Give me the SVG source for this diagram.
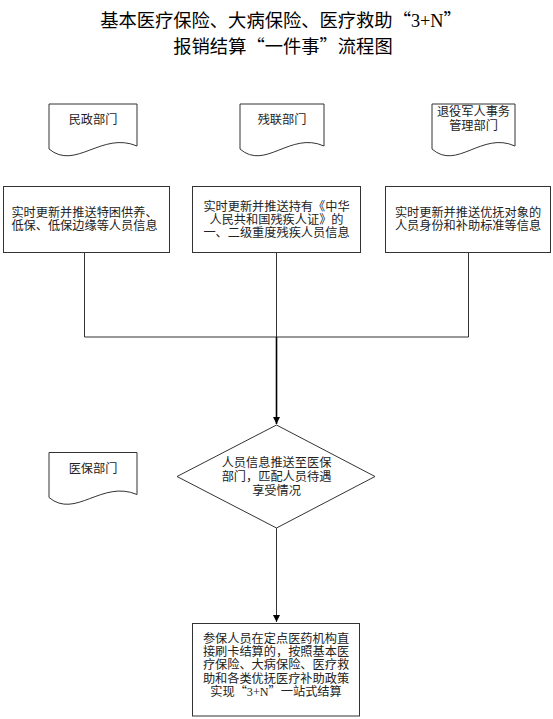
<svg xmlns="http://www.w3.org/2000/svg" width="553" height="719" viewBox="0 0 553 719">
<style>
.t{font-family:"Noto Sans CJK SC","Noto Sans CJK JP",sans-serif;font-size:12.2px;fill:#222;text-anchor:middle}
.title{font-family:"Noto Sans CJK SC","Noto Sans CJK JP",sans-serif;font-size:18.3px;fill:#000;text-anchor:middle}
.lat{font-family:"Liberation Serif",serif}
.shape{fill:#fff;stroke:#333;stroke-width:1}
.ln{fill:none;stroke:#333;stroke-width:1}
.ar{fill:none;stroke:#000;stroke-width:1.6}
</style>
<defs>
<marker id="ah" markerWidth="8" markerHeight="8" refX="7" refY="4" orient="auto" markerUnits="userSpaceOnUse">
<path d="M0,0.5 L7,4 L0,7.5 Z" fill="#000"/>
</marker>
</defs>
<rect width="553" height="719" fill="#fff"/>
<g id="title">
<text class="title"><tspan x="281" y="26.5">基本医疗保险、大病保险、医疗救助“<tspan class="lat">3+N</tspan>”</tspan><tspan x="283" y="53">报销结算“一件事”流程图</tspan></text>
</g>
<g id="connectors">
<path class="ln" d="M84.5,252.5 V337 M276.5,252.5 V337 M468.5,252.5 V337 M84.5,337 H468.5"/>
<path class="ar" d="M276.5,337 V424" marker-end="url(#ah)"/>
<path class="ln" d="M276.5,528 V622" marker-end="url(#ah)"/>
</g>
<g id="doc-minzheng">
<path class="shape" d="M49,104 H137 V146 C101.8,131 75.4,171 49,149 Z"/>
<text class="t" x="93" y="124.4">民政部门</text>
</g>
<g id="doc-canlian">
<path class="shape" d="M240,104 H324 V146 C290.4,131 265.2,171 240,149 Z"/>
<text class="t" x="282" y="124.4">残联部门</text>
</g>
<g id="doc-tuiyi">
<path class="shape" d="M432,104 H515 V146 C481.8,131 456.9,171 432,149 Z"/>
<text class="t"><tspan x="473.5" y="116.2">退役军人事务</tspan><tspan x="473.5" y="130.4">管理部门</tspan></text>
</g>
<g id="box-minzheng">
<rect class="shape" x="3.5" y="186.5" width="166" height="66"/>
<text class="t"><tspan x="84.5" y="216.9">实时更新并推送特困供养、</tspan><tspan x="84.5" y="230.2">低保、低保边缘等人员信息</tspan></text>
</g>
<g id="box-canlian">
<rect class="shape" x="192.5" y="186.5" width="168" height="66"/>
<text class="t"><tspan x="276.5" y="210.6">实时更新并推送持有《中华</tspan><tspan x="276.5" y="223.9">人民共和国残疾人证》的</tspan><tspan x="276.5" y="237.2">一、二级重度残疾人员信息</tspan></text>
</g>
<g id="box-tuiyi">
<rect class="shape" x="385.5" y="186.5" width="165" height="66"/>
<text class="t"><tspan x="468" y="216.9">实时更新并推送优抚对象的</tspan><tspan x="468" y="230.2">人员身份和补助标准等信息</tspan></text>
</g>
<g id="doc-yibao">
<path class="shape" d="M49,452.5 H137 V494.5 C101.8,479.5 75.4,519.5 49,497.5 Z"/>
<text class="t" x="93" y="473.4">医保部门</text>
</g>
<g id="decision">
<polygon class="shape" points="276.5,425 375,476.5 276.5,528 177,476.5"/>
<text class="t"><tspan x="276.5" y="467.4">人员信息推送至医保</tspan><tspan x="276.5" y="481.4">部门，匹配人员待遇</tspan><tspan x="276.5" y="495.4">享受情况</tspan></text>
</g>
<g id="box-settle">
<rect class="shape" x="192.5" y="623.5" width="167" height="92.5"/>
<text class="t"><tspan x="276" y="642.7">参保人员在定点医药机构直</tspan><tspan x="276" y="656.1">接刷卡结算的，按照基本医</tspan><tspan x="276" y="669.4">疗保险、大病保险、医疗救</tspan><tspan x="276" y="682.7">助和各类优抚医疗补助政策</tspan><tspan x="276" y="696.1">实现“<tspan class="lat">3+N</tspan>”一站式结算</tspan></text>
</g>
</svg>
